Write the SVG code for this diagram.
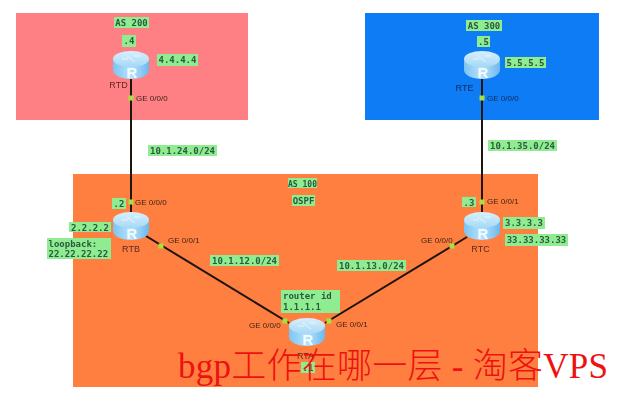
<svg xmlns="http://www.w3.org/2000/svg" width="620" height="400" viewBox="0 0 620 400">
<style>
.lb{fill:#90ec90}
.m{font:bold 9px "DejaVu Sans Mono","Liberation Mono",monospace;fill:#2a5a40;text-anchor:middle}
.t{font:8px "Liberation Sans",Arial,sans-serif;fill:#3a2418}
.n{font:9px "Liberation Sans",Arial,sans-serif;fill:#5a2a20;text-anchor:middle}
.ln{stroke:#1c1210;stroke-width:2;fill:none}
.dot{fill:#a8e040}
.rl{font:bold 15px "Liberation Sans",Arial,sans-serif;fill:#f2fbff;text-anchor:middle}
</style>
<defs>
<linearGradient id="body" x1="0" x2="1" y1="0" y2="0"><stop offset="0" stop-color="#7cc4f2"/><stop offset=".5" stop-color="#b8e2fb"/><stop offset="1" stop-color="#6cb8ee"/></linearGradient>
<linearGradient id="top" x1="0" x2="0" y1="0" y2="1"><stop offset="0" stop-color="#d8f0fd"/><stop offset="1" stop-color="#a5d8f6"/></linearGradient>
<filter id="soft" x="-2%" y="-2%" width="104%" height="104%"><feGaussianBlur stdDeviation="0.4"/></filter>
<symbol id="router" width="36" height="28" viewBox="0 0 36 28" overflow="visible">
<path d="M0 8V19C0 24 8 28 18 28S36 24 36 19V8Z" fill="url(#body)"/>
<ellipse cx="18" cy="8" rx="18" ry="8" fill="url(#top)"/>
<path d="M9 8H15M21 5H27M14 5L22 11" stroke="#e8f7ff" stroke-width="1" fill="none"/>
<text x="19" y="26.500" class="rl">R</text>
</symbol>
</defs>
<rect width="620" height="400" fill="#fff"/>
<g filter="url(#soft)">
<g id="areas">
<rect x="16" y="13" width="232" height="107" fill="#ff8084"/>
<rect x="365" y="13" width="234" height="107" fill="#0a7cf5"/>
<rect x="73" y="174" width="465" height="213" fill="#ff7f3f"/>
<rect class="lb" x="114" y="17" width="35" height="11"/><text class="m" x="131.500" y="26">AS 200</text>
<rect class="lb" x="466" y="20" width="36" height="11"/><text class="m" x="484" y="29">AS 300</text>
<rect class="lb" x="288" y="178" width="29" height="10"/><text class="m" x="302.500" y="186.500" style="font-size:8px">AS 100</text>
<rect class="lb" x="292" y="195" width="23" height="11"/><text class="m" x="303.500" y="204">OSPF</text>
</g>
<g id="connectors">
<path class="ln" d="M131 78V212"/>
<path class="ln" d="M482 78V212"/>
<path class="ln" d="M146 236L289 323"/>
<path class="ln" d="M467 237L325 323"/>
<rect class="dot" x="128.500" y="95.500" width="5" height="5"/>
<rect class="dot" x="128.500" y="199.500" width="5" height="5"/>
<rect class="dot" x="479.500" y="95.500" width="5" height="5"/>
<rect class="dot" x="479.500" y="199.500" width="5" height="5"/>
<rect class="dot" x="158.500" y="243.500" width="5" height="5"/>
<rect class="dot" x="449.500" y="243.500" width="5" height="5"/>
<rect class="dot" x="282.500" y="318.500" width="5" height="5"/>
<rect class="dot" x="326.500" y="318.500" width="5" height="5"/>
<text class="t" x="136" y="101">GE 0/0/0</text>
<text class="t" x="487" y="101" style="fill:#0e2a5a">GE 0/0/0</text>
<text class="t" x="135" y="205">GE 0/0/0</text>
<text class="t" x="487" y="204">GE 0/0/1</text>
<text class="t" x="168" y="243">GE 0/0/1</text>
<text class="t" x="421" y="243">GE 0/0/0</text>
<text class="t" x="249" y="328">GE 0/0/0</text>
<text class="t" x="336" y="327">GE 0/0/1</text>
<rect class="lb" x="148" y="145" width="69" height="11"/><text class="m" x="182.500" y="154">10.1.24.0/24</text>
<rect class="lb" x="488" y="140" width="69" height="11"/><text class="m" x="522.500" y="149">10.1.35.0/24</text>
<rect class="lb" x="210" y="255" width="69" height="11"/><text class="m" x="244.500" y="264">10.1.12.0/24</text>
<rect class="lb" x="337" y="260" width="69" height="11"/><text class="m" x="371.500" y="269">10.1.13.0/24</text>
</g>
<g id="RTD">
<use href="#router" x="113" y="51"/>
<text class="n" x="118.500" y="88">RTD</text>
<rect class="lb" x="122" y="35" width="14" height="12"/><text class="m" x="129" y="44">.4</text>
<rect class="lb" x="157" y="54" width="41" height="12"/><text class="m" x="177.500" y="63">4.4.4.4</text>
</g>
<g id="RTE">
<use href="#router" x="464" y="51"/>
<text class="n" x="464.500" y="91" style="fill:#0e2a5a">RTE</text>
<rect class="lb" x="477" y="36" width="13" height="11"/><text class="m" x="483.500" y="45">.5</text>
<rect class="lb" x="505" y="57" width="41" height="11"/><text class="m" x="525.500" y="66">5.5.5.5</text>
</g>
<g id="RTB">
<use href="#router" x="113" y="212"/>
<text class="n" x="131" y="252">RTB</text>
<rect class="lb" x="112" y="198" width="14" height="11"/><text class="m" x="119" y="207">.2</text>
<rect class="lb" x="69" y="222" width="42" height="10"/><text class="m" x="90" y="230.500">2.2.2.2</text>
<rect class="lb" x="47" y="238" width="64" height="21"/>
<text class="m" x="48.500" y="246.500" style="text-anchor:start">loopback:</text>
<text class="m" x="48.500" y="256.500" style="text-anchor:start">22.22.22.22</text>
</g>
<g id="RTC">
<use href="#router" x="464" y="212"/>
<text class="n" x="480.500" y="252">RTC</text>
<rect class="lb" x="462" y="197" width="14" height="10"/><text class="m" x="469" y="205.500">.3</text>
<rect class="lb" x="503" y="217" width="42" height="12"/><text class="m" x="524" y="226">3.3.3.3</text>
<rect class="lb" x="505" y="234" width="63" height="12"/><text class="m" x="536.500" y="243">33.33.33.33</text>
</g>
<g id="RTA">
<use href="#router" x="289" y="318"/>
<text class="n" x="305.500" y="359">RTA</text>
<rect class="lb" x="281" y="290" width="59" height="23"/>
<text class="m" x="283" y="299" style="text-anchor:start">router id</text>
<text class="m" x="283" y="310" style="text-anchor:start">1.1.1.1</text>
<rect class="lb" x="301" y="362" width="14" height="11"/><text class="m" x="308" y="371">.1</text>
</g>
</g>
<text id="watermark" x="178" y="378" font-size="35" fill="#ee1111" font-family="'Liberation Serif','Noto Sans CJK SC',serif" font-weight="300" textLength="430" lengthAdjust="spacing">bgp工作在哪一层 - 淘客VPS</text>
</svg>
